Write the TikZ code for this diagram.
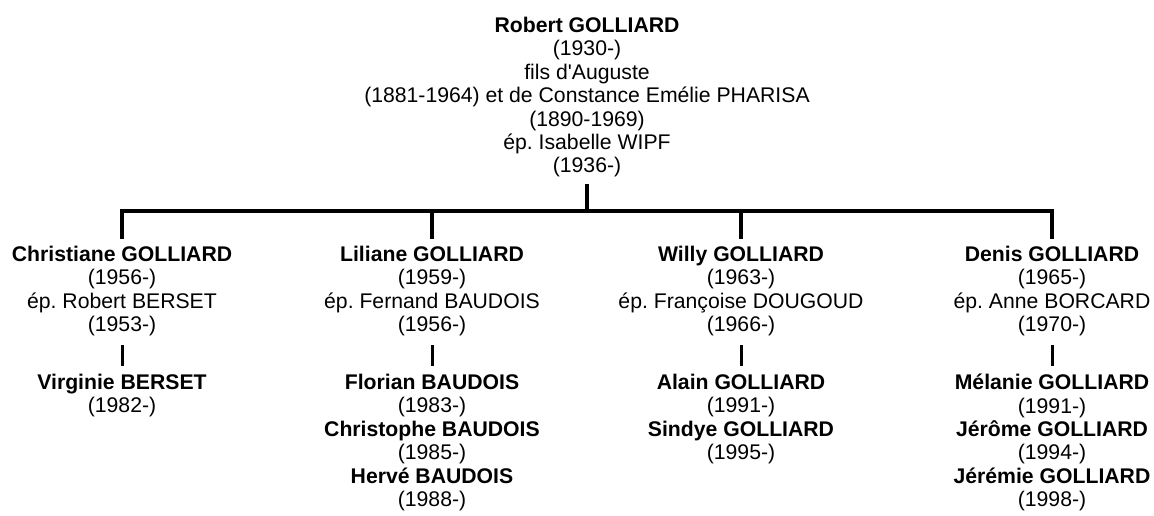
\documentclass[tikz,border=0pt]{standalone}
\usepackage{fontspec}
\setmainfont{Liberation Sans}
\frenchspacing
\tikzset{
	person/.style={align=center, inner sep=0pt, anchor=north, font=\fontsize{21.2}{23.4}\selectfont},
	famline/.style={line width=3.8pt},
	kidline/.style={line width=3pt}
}
\begin{document}
\begin{tikzpicture}[x=1pt,y=-1pt]
			\useasboundingbox (0,0) rectangle (1154,516);
			\node [person] (top) at (587,17) {\textbf{Robert GOLLIARD}\\(1930-)\\fils d\textquotesingle Auguste\\(1881-1964) et de Constance Emélie PHARISA\\(1890-1969)\\ép. Isabelle WIPF\\(1936-)};
			\node [person] (c1) at (122,246) {\textbf{Christiane GOLLIARD}\\(1956-)\\ép. Robert BERSET\\(1953-)};
			\node [person] (c2) at (432,246) {\textbf{Liliane GOLLIARD}\\(1959-)\\ép. Fernand BAUDOIS\\(1956-)};
			\node [person] (c3) at (741,246) {\textbf{Willy GOLLIARD}\\(1963-)\\ép. Françoise DOUGOUD\\(1966-)};
			\node [person] (c4) at (1052,246) {\textbf{Denis GOLLIARD}\\(1965-)\\ép. Anne BORCARD\\(1970-)};
			\node [person] (g1) at (122,374) {\textbf{Virginie BERSET}\\(1982-)};
			\node [person] (g2) at (432,374) {\textbf{Florian BAUDOIS}\\(1983-)\\\textbf{Christophe BAUDOIS}\\(1985-)\\\textbf{Hervé BAUDOIS}\\(1988-)};
			\node [person] (g3) at (741,374) {\textbf{Alain GOLLIARD}\\(1991-)\\\textbf{Sindye GOLLIARD}\\(1995-)};
			\node [person] (g4) at (1052,374) {\textbf{Mélanie GOLLIARD}\\(1991-)\\\textbf{Jérôme GOLLIARD}\\(1994-)\\\textbf{Jérémie GOLLIARD}\\(1998-)};
			\coordinate (busL) at (122,211);
			\coordinate (busR) at (1052,211);
			\draw [famline] ([yshift=-6pt]top.south) -- (top.south |- busL);
			\draw [famline] ([yshift=7pt]c1.north) -- (busL) -- (busR) -- ([yshift=7pt]c4.north);
			\foreach \c in {c2,c3}
				\draw [famline] ([yshift=7pt]\c.north) -- (\c.north |- busL);
			\foreach \c/\g in {c1/g1,c2/g2,c3/g3,c4/g4}
				\draw [kidline] (\c.south |- 0,345) -- ([yshift=8pt]\g.north);
		\end{tikzpicture}
\end{document}
